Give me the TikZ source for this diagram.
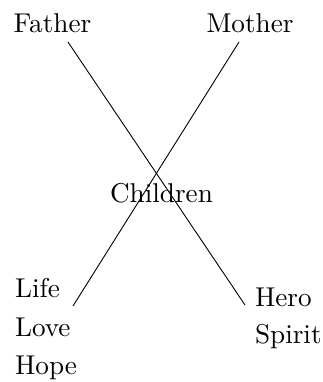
\documentclass[tikz,border=0pt]{standalone}
\begin{document}
\begin{tikzpicture}[x=1pt,y=1pt,
  lbl/.style={inner sep=0pt,outer sep=0pt,anchor=base west,scale=2.72,font=\normalsize},
  clbl/.style={lbl,anchor=base},
  conn/.style={line width=0.9pt,black}]
\useasboundingbox (0,0) rectangle (322,-382);
\node[clbl] (father) at (52.5,-33) {Father};
\node[clbl] (mother) at (250,-33) {Mother};
\node[clbl] (children) at (161.5,-202) {Children};
\node[lbl] (life) at (15,-297) {Life};
\node[lbl] (love) at (15,-336) {Love};
\node[lbl] (hope) at (15,-374) {Hope};
\node[lbl] (hero) at (255,-306) {Hero};
\node[lbl] (spirit) at (255,-343) {Spirit};
\coordinate (fatherend) at (68,-42);
\coordinate (heroend) at (245,-305);
\coordinate (motherend) at (239,-42);
\coordinate (lifeend) at (73,-306);
\draw[conn] (fatherend) -- (heroend);
\draw[conn] (motherend) -- (lifeend);
\end{tikzpicture}
\end{document}
